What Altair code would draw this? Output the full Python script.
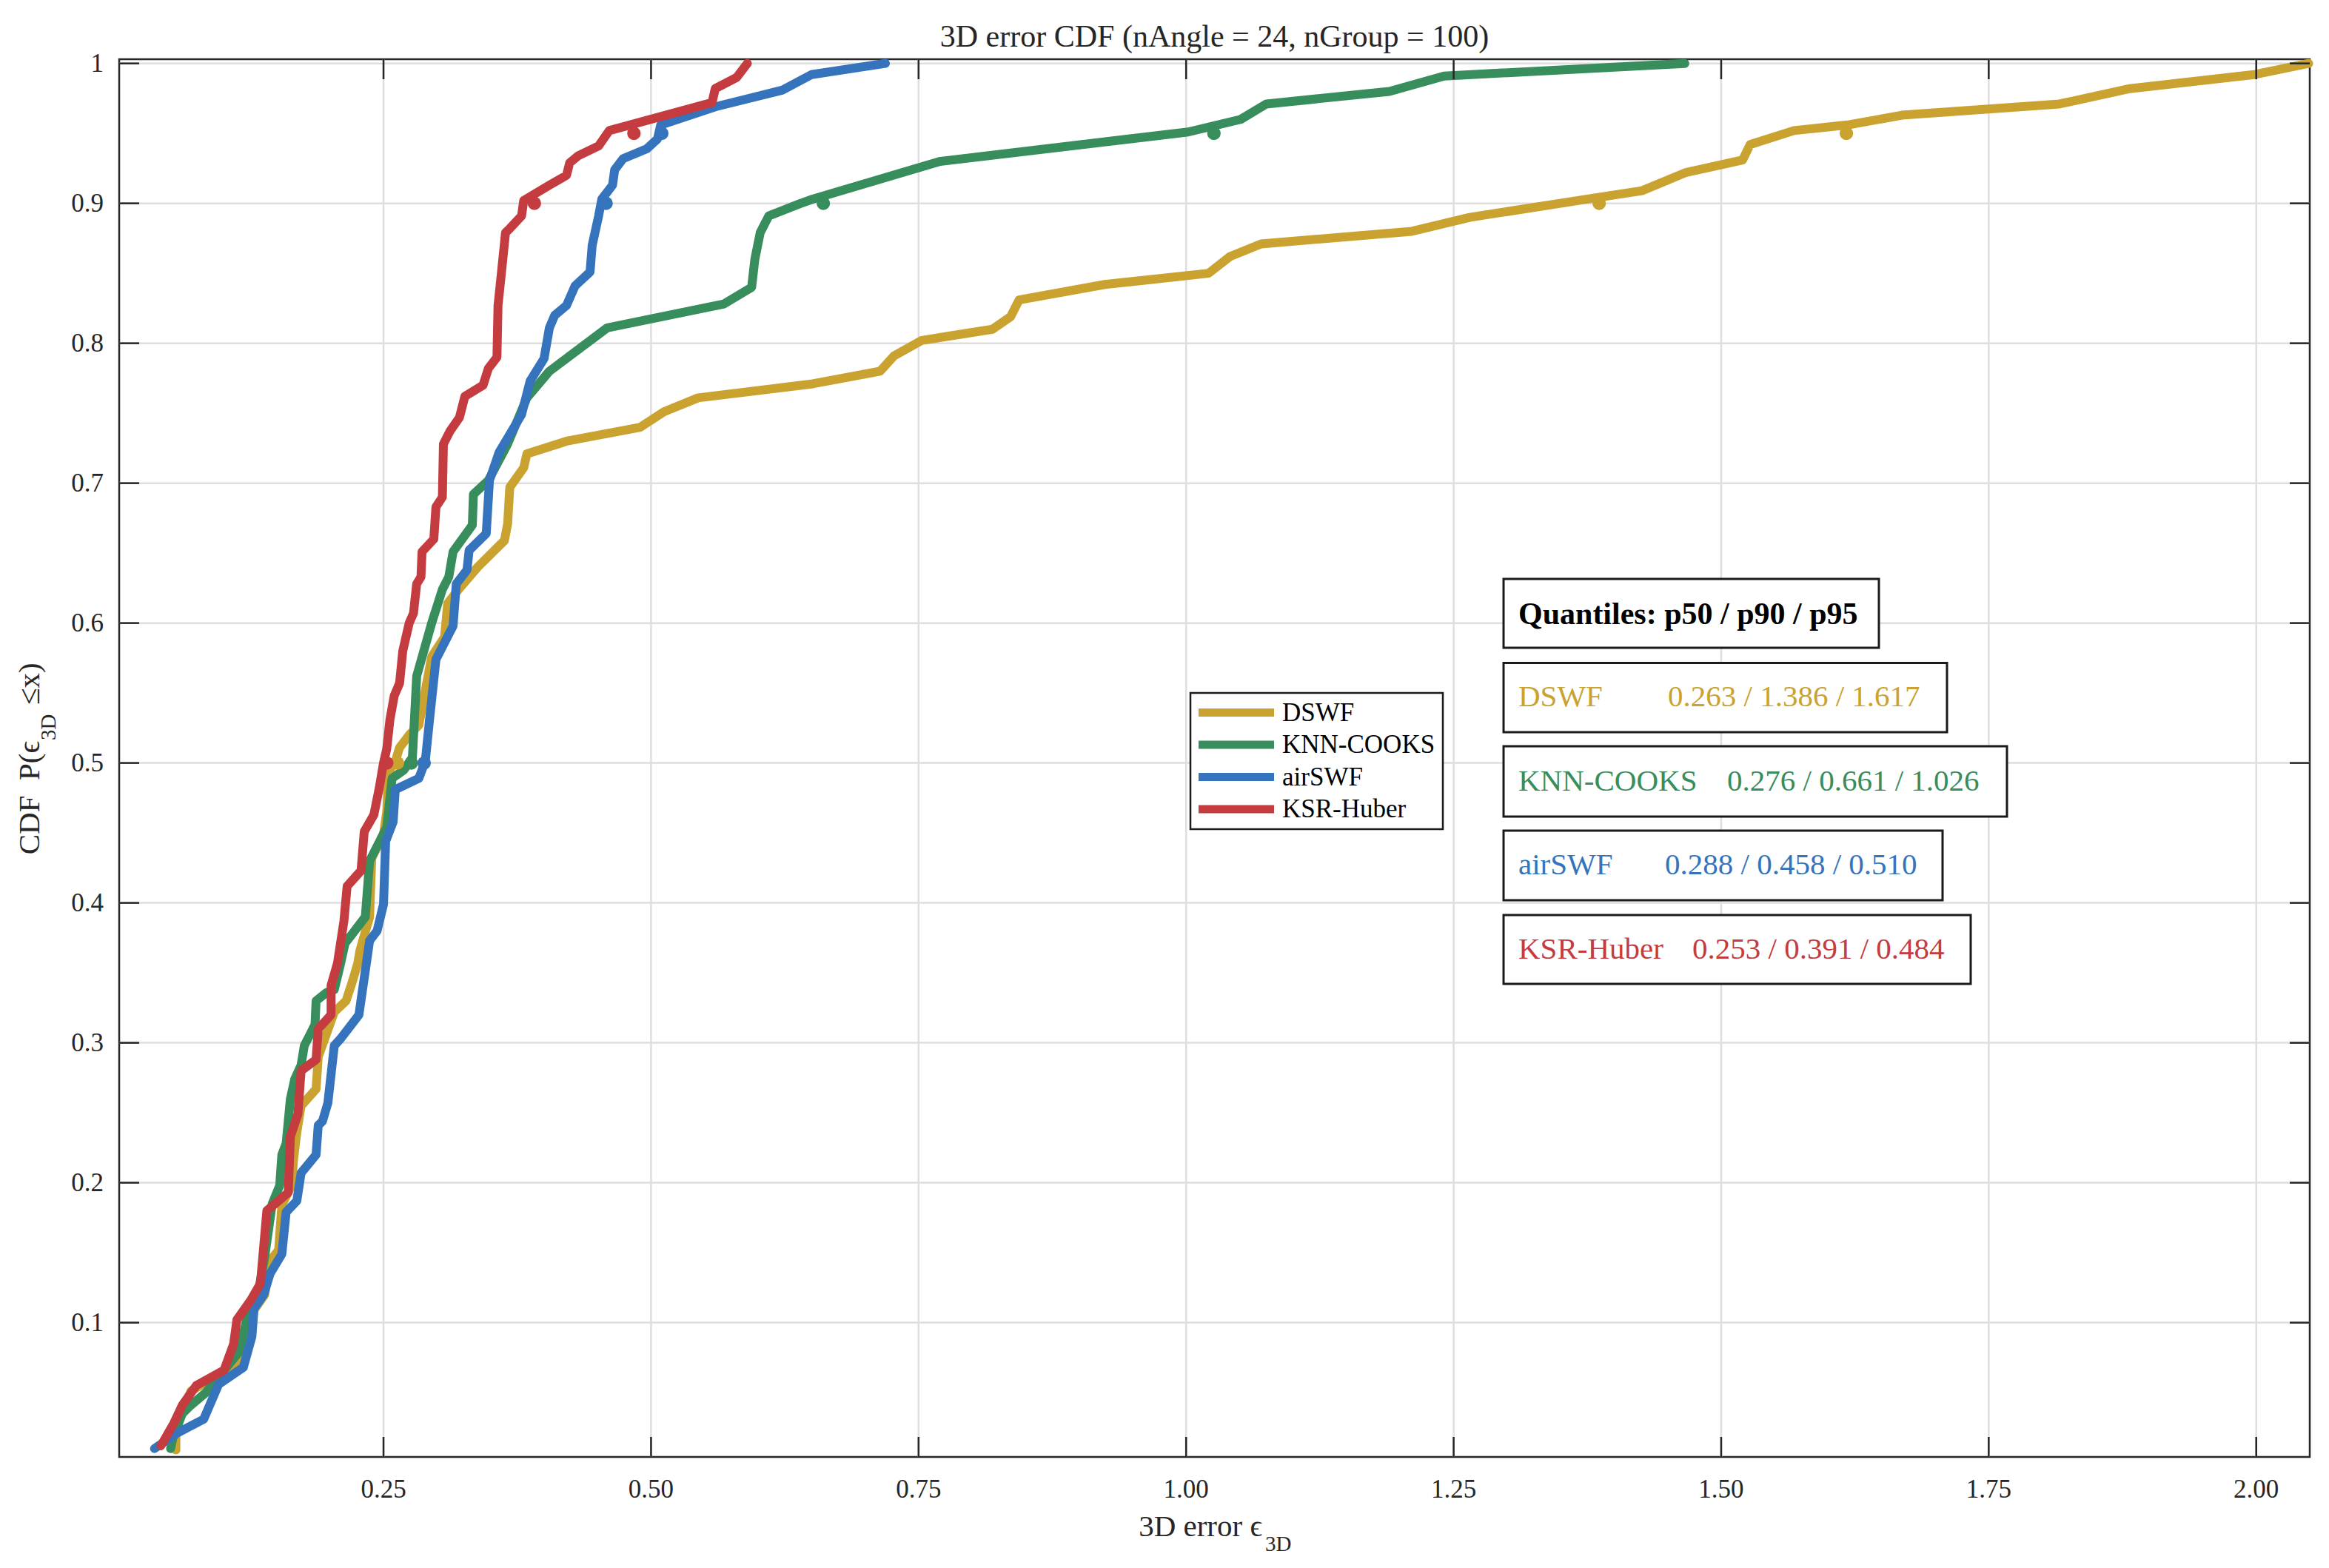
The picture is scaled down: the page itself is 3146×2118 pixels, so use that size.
import altair as alt
import pandas as pd

# ---------------- data ----------------
series_names = ["DSWF", "KNN-COOKS", "airSWF", "KSR-Huber"]
series_colors = ["#C9A230", "#378D5B", "#3574BC", "#C43C3F"]

dswf_x = [0.056, 0.056, 0.065, 0.070, 0.096, 0.113, 0.121, 0.129, 0.139, 0.144, 0.152, 0.155,
          0.164, 0.166, 0.169, 0.173, 0.187, 0.189, 0.204, 0.215, 0.221, 0.226, 0.228, 0.237,
          0.239, 0.250, 0.253, 0.255, 0.261, 0.265, 0.274, 0.283, 0.295, 0.307, 0.310, 0.320,
          0.338, 0.363, 0.366, 0.368, 0.381, 0.384, 0.421, 0.490, 0.512, 0.544, 0.651, 0.714,
          0.727, 0.753, 0.819, 0.836, 0.844, 0.924, 1.021, 1.041, 1.070, 1.211, 1.265, 1.383,
          1.426, 1.467, 1.520, 1.527, 1.568, 1.618, 1.669, 1.816, 1.882, 1.998, 2.049]
dswf_y = [0.009, 0.028, 0.041, 0.051, 0.063, 0.071, 0.087, 0.109, 0.120, 0.144, 0.152, 0.184,
          0.198, 0.217, 0.236, 0.255, 0.267, 0.290, 0.322, 0.330, 0.344, 0.357, 0.366, 0.390,
          0.432, 0.449, 0.465, 0.494, 0.501, 0.511, 0.520, 0.527, 0.576, 0.590, 0.614, 0.624,
          0.640, 0.659, 0.671, 0.697, 0.711, 0.721, 0.730, 0.740, 0.751, 0.761, 0.771, 0.780,
          0.791, 0.802, 0.810, 0.819, 0.831, 0.842, 0.850, 0.862, 0.871, 0.880, 0.890, 0.904,
          0.909, 0.922, 0.931, 0.942, 0.952, 0.956, 0.963, 0.971, 0.982, 0.992, 1.000]

knn_x = [0.051, 0.053, 0.062, 0.070, 0.084, 0.115, 0.121, 0.124, 0.133, 0.139, 0.146, 0.153,
         0.155, 0.159, 0.163, 0.167, 0.173, 0.176, 0.186, 0.187, 0.197, 0.204, 0.210, 0.214,
         0.233, 0.237, 0.253, 0.258, 0.269, 0.277, 0.281, 0.295, 0.305, 0.311, 0.315, 0.333,
         0.334, 0.348, 0.366, 0.384, 0.405, 0.459, 0.568, 0.594, 0.597, 0.602, 0.610, 0.640,
         0.651, 0.770, 1.002, 1.051, 1.075, 1.190, 1.241, 1.466]
knn_y = [0.010, 0.017, 0.035, 0.041, 0.050, 0.079, 0.098, 0.112, 0.122, 0.147, 0.185, 0.198,
         0.220, 0.228, 0.260, 0.274, 0.284, 0.298, 0.313, 0.330, 0.336, 0.338, 0.357, 0.371,
         0.390, 0.430, 0.454, 0.489, 0.495, 0.504, 0.562, 0.600, 0.624, 0.633, 0.651, 0.670,
         0.692, 0.702, 0.728, 0.761, 0.780, 0.811, 0.828, 0.840, 0.860, 0.879, 0.891, 0.900,
         0.903, 0.930, 0.951, 0.960, 0.971, 0.980, 0.991, 1.000]

air_x = [0.036, 0.057, 0.082, 0.096, 0.119, 0.127, 0.129, 0.138, 0.144, 0.155, 0.159, 0.169,
         0.173, 0.187, 0.189, 0.193, 0.198, 0.204, 0.210, 0.227, 0.234, 0.237, 0.244, 0.250,
         0.252, 0.259, 0.261, 0.283, 0.289, 0.293, 0.299, 0.315, 0.318, 0.328, 0.330, 0.346,
         0.349, 0.358, 0.365, 0.379, 0.387, 0.400, 0.405, 0.410, 0.421, 0.429, 0.443, 0.445,
         0.451, 0.454, 0.464, 0.466, 0.474, 0.496, 0.506, 0.509, 0.560, 0.623, 0.650, 0.719]
air_y = [0.010, 0.021, 0.031, 0.056, 0.068, 0.090, 0.110, 0.120, 0.135, 0.149, 0.179, 0.187,
         0.207, 0.220, 0.241, 0.244, 0.257, 0.298, 0.303, 0.320, 0.357, 0.373, 0.380, 0.399,
         0.444, 0.458, 0.481, 0.489, 0.501, 0.531, 0.574, 0.598, 0.628, 0.638, 0.652, 0.664,
         0.702, 0.722, 0.731, 0.749, 0.773, 0.789, 0.811, 0.820, 0.827, 0.841, 0.851, 0.870,
         0.891, 0.903, 0.913, 0.924, 0.932, 0.939, 0.946, 0.956, 0.969, 0.981, 0.992, 1.000]

ksr_x = [0.042, 0.054, 0.062, 0.075, 0.101, 0.110, 0.113, 0.126, 0.135, 0.141, 0.161, 0.163,
         0.170, 0.173, 0.187, 0.189, 0.201, 0.201, 0.207, 0.213, 0.216, 0.229, 0.232, 0.241,
         0.246, 0.250, 0.253, 0.256, 0.260, 0.265, 0.268, 0.274, 0.278, 0.281, 0.285, 0.286,
         0.297, 0.299, 0.305, 0.306, 0.312, 0.321, 0.326, 0.343, 0.348, 0.356, 0.357, 0.360,
         0.364, 0.368, 0.379, 0.381, 0.405, 0.421, 0.424, 0.432, 0.451, 0.461, 0.557, 0.560,
         0.580, 0.590]
ksr_y = [0.012, 0.028, 0.041, 0.055, 0.066, 0.085, 0.102, 0.116, 0.128, 0.180, 0.193, 0.233,
         0.249, 0.280, 0.288, 0.310, 0.320, 0.341, 0.357, 0.387, 0.412, 0.423, 0.451, 0.463,
         0.482, 0.500, 0.510, 0.531, 0.548, 0.557, 0.580, 0.600, 0.607, 0.628, 0.633, 0.651,
         0.660, 0.683, 0.690, 0.728, 0.737, 0.747, 0.762, 0.770, 0.782, 0.790, 0.827, 0.849,
         0.879, 0.882, 0.891, 0.902, 0.913, 0.920, 0.929, 0.934, 0.941, 0.952, 0.972, 0.982,
         0.990, 1.000]

q_p50 = [0.263, 0.276, 0.288, 0.253]
q_p90 = [1.386, 0.661, 0.458, 0.391]
q_p95 = [1.617, 1.026, 0.510, 0.484]
q_levels = [0.50, 0.90, 0.95]

x_tick_values = [0.25, 0.50, 0.75, 1.00, 1.25, 1.50, 1.75, 2.00]
y_tick_values = [0.1, 0.2, 0.3, 0.4, 0.5, 0.6, 0.7, 0.8, 0.9, 1.0]

title_text = "3D error CDF (nAngle = 24, nGroup = 100)"
quant_header = "Quantiles: p50 / p90 / p95"

# ---------------- layout / style ----------------
FONT = "Liberation Serif"
AX = "#262626"
GRID = "#DEDEDE"
W, H = 2959, 1888
X_DOM = [0.003, 2.05]
Y_DOM = [0.004, 1.003]
TICK = 27
LW = 12

xs = alt.Scale(domain=X_DOM, nice=False, zero=False)
ys = alt.Scale(domain=Y_DOM, nice=False, zero=False)

series_x = [dswf_x, knn_x, air_x, ksr_x]
series_y = [dswf_y, knn_y, air_y, ksr_y]
rows = []
for name, xv, yv in zip(series_names, series_x, series_y):
    for i, (a, b) in enumerate(zip(xv, yv)):
        rows.append({"series": name, "x": a, "y": b, "i": i})
cdf = pd.DataFrame(rows)

qrows = []
for k, name in enumerate(series_names):
    for lev, val in zip(q_levels, [q_p50[k], q_p90[k], q_p95[k]]):
        qrows.append({"series": name, "x": val, "y": lev})
qdf = pd.DataFrame(qrows)

one = pd.DataFrame({"k": [0]})
color_scale = alt.Scale(domain=series_names, range=series_colors)
xt = pd.DataFrame({"v": x_tick_values})
yt = pd.DataFrame({"v": y_tick_values})


def X(field):
    return alt.X(field, scale=xs, axis=None)


def Y(field):
    return alt.Y(field, scale=ys, axis=None)


layers = []

# grid lines (Matlab style, light grey)
layers.append(alt.Chart(xt).mark_rule(color=GRID, strokeWidth=2.5).encode(
    x=X("v:Q"), y=alt.value(0), y2=alt.value(H)))
layers.append(alt.Chart(yt).mark_rule(color=GRID, strokeWidth=2.5).encode(
    y=Y("v:Q"), x=alt.value(0), x2=alt.value(W)))

# tick labels, placed through the scales
layers.append(alt.Chart(xt).mark_text(font=FONT, fontSize=35, color=AX, align="center",
                                      baseline="top").encode(
    x=X("v:Q"), y=alt.value(H + 27), text=alt.Text("v:Q", format=".2f")))
layers.append(alt.Chart(yt).mark_text(font=FONT, fontSize=35, color=AX, align="right",
                                      baseline="middle").encode(
    y=Y("v:Q"), x=alt.value(-21), text=alt.Text("v:Q", format=".1~f")))

# CDF lines, drawn in legend order
for name, col in zip(series_names, series_colors):
    layers.append(
        alt.Chart(cdf).transform_filter(alt.datum.series == name).mark_line(
            color=col, strokeWidth=LW, strokeJoin="round", strokeCap="round").encode(
            x=X("x:Q"), y=Y("y:Q"), order=alt.Order("i:Q"))
    )

# quantile markers
layers.append(
    alt.Chart(qdf).mark_circle(size=330, opacity=1).encode(
        x=X("x:Q"), y=Y("y:Q"),
        color=alt.Color("series:N", scale=color_scale, legend=None))
)

# inward ticks on all four sides
for y0, y1 in [(H, H - TICK), (0, TICK)]:
    layers.append(alt.Chart(xt).mark_rule(color=AX, strokeWidth=2.5).encode(
        x=X("v:Q"), y=alt.value(y0), y2=alt.value(y1)))
for x0, x1 in [(0, TICK), (W, W - TICK)]:
    layers.append(alt.Chart(yt).mark_rule(color=AX, strokeWidth=2.5).encode(
        y=Y("v:Q"), x=alt.value(x0), x2=alt.value(x1)))


def box(x0, y0, x1, y1, sw=3):
    return alt.Chart(one).mark_rect(fill="white", stroke="#1a1a1a", strokeWidth=sw).encode(
        x=alt.value(x0), x2=alt.value(x1), y=alt.value(y0), y2=alt.value(y1))


def txt(s, x, y, size, color="#000000", align="left", baseline="middle", weight="normal", angle=None):
    kw = dict(text=s, font=FONT, fontSize=size, color=color, align=align, baseline=baseline,
              fontWeight=weight)
    if angle is not None:
        kw["angle"] = angle
    return alt.Chart(one).mark_text(**kw).encode(x=alt.value(x), y=alt.value(y))


# legend
LEG_X0, LEG_Y0, LEG_X1, LEG_Y1 = 1447, 856, 1788, 1040
layers.append(box(LEG_X0, LEG_Y0, LEG_X1, LEG_Y1, sw=2.5))
for k, (name, col) in enumerate(zip(series_names, series_colors)):
    yy = 882.5 + k * 43.5
    layers.append(alt.Chart(one).mark_rule(color=col, strokeWidth=11).encode(
        x=alt.value(1458), x2=alt.value(1560), y=alt.value(yy)))
    layers.append(txt(name, 1571, yy, 35))

# quantile boxes
layers.append(box(1870, 702, 2377, 795))
layers.append(txt(quant_header, 1890, 749.5, 42, weight="bold"))
row_boxes = [(815.5, 909, 2469, 2092), (928, 1023, 2550, 2172),
             (1042, 1136, 2463, 2088), (1156, 1249, 2501, 2125)]
for k, (name, col) in enumerate(zip(series_names, series_colors)):
    y0, y1, x1, vx = row_boxes[k]
    cy = (y0 + y1) / 2
    layers.append(box(1870, y0, x1, y1))
    layers.append(txt(name, 1890, cy, 41, color=col))
    layers.append(txt(f"{q_p50[k]:.3f} / {q_p90[k]:.3f} / {q_p95[k]:.3f}", vx, cy, 41, color=col))

# chart title and axis titles (with subscripts)
layers.append(txt(title_text, W / 2, -17, 42, color=AX, align="center", baseline="alphabetic"))
layers.append(txt("3D error \u03f5", 1544, 1995, 41, color=AX, align="right", baseline="alphabetic"))
layers.append(txt("3D", 1548, 2015, 29, color=AX, align="left", baseline="alphabetic"))
layers.append(txt("CDF\u00a0\u00a0P(\u03f5", -108, 921, 41, color=AX, align="right",
                  baseline="alphabetic", angle=270))
layers.append(txt("3D", -86, 920, 29, color=AX, align="left", baseline="alphabetic", angle=270))
layers.append(txt("\u00a0\u2264x)", -108, 872, 41, color=AX, align="left",
                  baseline="alphabetic", angle=270))

chart = alt.layer(*layers).properties(
    width=W, height=H,
    background="white",
    autosize=alt.AutoSizeParams(type="none"),
    padding={"left": 153, "top": 72, "right": 18, "bottom": 134},
).configure_view(
    stroke=AX, strokeWidth=2.5
)

chart.save("out.html", embed_options={"renderer": "svg", "actions": False})
